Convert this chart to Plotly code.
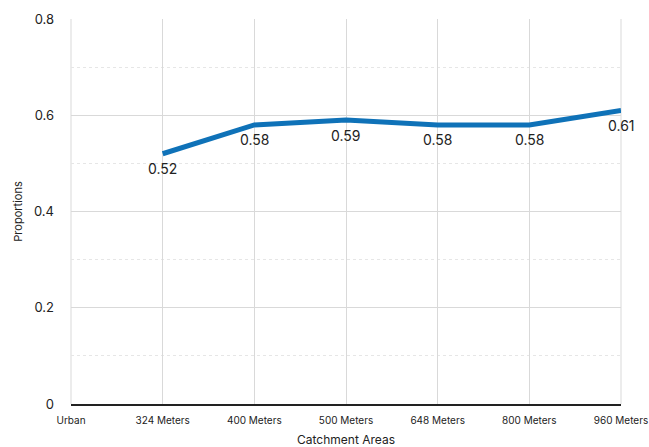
import plotly.graph_objects as go

# Catchment area categories and the proportion measured for each
areas = ["Urban", "324 Meters", "400 Meters", "500 Meters", "648 Meters", "800 Meters", "960 Meters"]
proportions = [None, 0.52, 0.58, 0.59, 0.58, 0.58, 0.61]

y_ticks = [0, 0.2, 0.4, 0.6, 0.8]
y_tick_text = ["0", "0.2", "0.4", "0.6", "0.8"]

FONT = "Inter, Liberation Sans, Arial, sans-serif"
GRID = "#d9d9d9"
INK = "#222222"

fig = go.Figure(
    go.Scatter(
        x=areas,
        y=proportions,
        mode="lines",
        line=dict(color="#0f72b8", width=5),
        hoverinfo="x+y",
    )
)

# value labels just below each point
for area, val in zip(areas, proportions):
    if val is None:
        continue
    fig.add_annotation(
        x=area, y=val, text=f"{val:.2f}", showarrow=False,
        yanchor="middle", yshift=-15,
        font=dict(family=FONT, size=14, color=INK),
    )

fig.update_layout(
    width=649,
    height=447,
    margin=dict(l=71, r=28, t=19, b=43),
    paper_bgcolor="white",
    plot_bgcolor="white",
    showlegend=False,
    font=dict(family=FONT, color=INK),
)

fig.update_xaxes(
    type="category",
    categoryorder="array",
    categoryarray=areas,
    range=[0, 6],
    automargin=False,
    showgrid=True,
    gridcolor=GRID,
    gridwidth=1,
    showline=True,
    linecolor=INK,
    linewidth=2,
    ticks="",
    ticklabelstandoff=6,
    tickfont=dict(family=FONT, size=10, color=INK),
    title=dict(text="Catchment Areas", font=dict(family=FONT, size=12, color=INK), standoff=16),
    zeroline=False,
)

fig.update_yaxes(
    range=[0, 0.8],
    tickvals=y_ticks,
    ticktext=y_tick_text,
    automargin=False,
    showgrid=True,
    gridcolor=GRID,
    gridwidth=1,
    minor=dict(dtick=0.1, showgrid=True, gridcolor="#e6e6e6", griddash="dot", gridwidth=1),
    showline=False,
    zeroline=False,
    ticks="",
    ticklabelstandoff=16,
    tickfont=dict(family=FONT, size=13, color=INK),
    title=dict(text="Proportions", font=dict(family=FONT, size=11, color=INK), standoff=9),
)

# left and right borders of the plot area
for edge in (0, 1):
    fig.add_shape(type="line", xref="paper", yref="paper", x0=edge, x1=edge, y0=0, y1=1,
                  line=dict(color=GRID, width=1), layer="below")

fig.write_html("out.html")
